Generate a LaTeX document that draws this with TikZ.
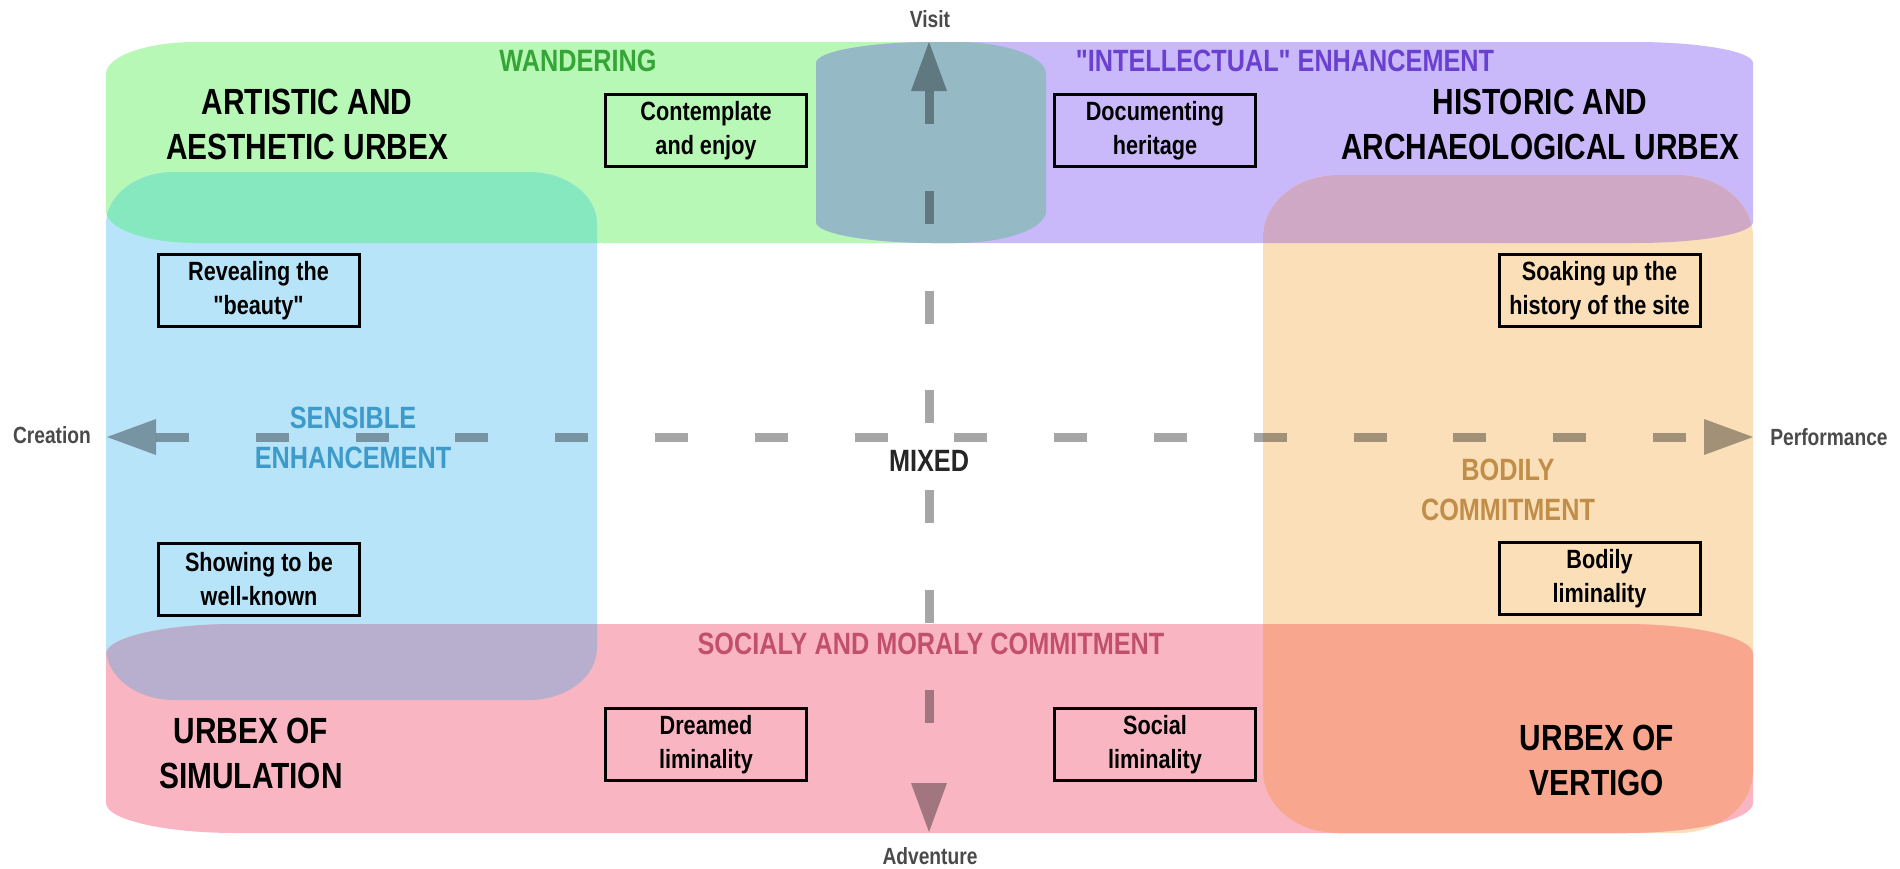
\documentclass[tikz,border=0pt]{standalone}
\usepackage{fontspec}
\newfontfamily\nar[FakeStretch=0.82]{Liberation Sans}
\definecolor{cGreen}{HTML}{B7F8B7}
\definecolor{cPurple}{HTML}{C9B8FA}
\definecolor{cBlue}{HTML}{B8E4FA}
\definecolor{cOrange}{HTML}{FADFB8}
\definecolor{cPink}{HTML}{F9B6C2}
\definecolor{cGP}{HTML}{95B9C5}
\definecolor{cGB}{HTML}{86E8BE}
\definecolor{cPO}{HTML}{CEA8C4}
\definecolor{cBP}{HTML}{B8AECE}
\definecolor{cOP}{HTML}{F9A68E}
\definecolor{cAxis}{HTML}{A6A6A6}
\definecolor{cAxLab}{HTML}{4A4A4A}
\definecolor{tGreen}{HTML}{35A535}
\definecolor{tPurple}{HTML}{6A40D0}
\definecolor{tBlue}{HTML}{3D9AC9}
\definecolor{tOrange}{HTML}{C08E48}
\definecolor{tPink}{HTML}{C2506B}
\definecolor{tMixed}{HTML}{262626}
% band with elliptical corners: x1 y1 x2 y2 rx ry (pixel coords, y down)
\newcommand\ubxband[6]{({#1+#5},#2) -- ({#3-#5},#2) .. controls ({#3-0.4477*#5},#2) and (#3,{#2+0.4477*#6}) .. (#3,{#2+#6}) -- (#3,{#4-#6}) .. controls (#3,{#4-0.4477*#6}) and ({#3-0.4477*#5},#4) .. ({#3-#5},#4) -- ({#1+#5},#4) .. controls ({#1+0.4477*#5},#4) and (#1,{#4-0.4477*#6}) .. (#1,{#4-#6}) -- (#1,{#2+#6}) .. controls (#1,{#2+0.4477*#6}) and ({#1+0.4477*#5},#2) .. ({#1+#5},#2) -- cycle}
\newcommand\bGreen{\ubxband{106}{42}{1046}{243}{90}{32}}
\newcommand\bPurple{\ubxband{816}{42}{1753}{243}{118}{21}}
\newcommand\bBlue{\ubxband{106}{172}{597}{700}{68}{52}}
\newcommand\bOrange{\ubxband{1263}{175}{1753}{833}{75}{62}}
\newcommand\bPink{\ubxband{106}{624}{1753}{833}{130}{30}}
\begin{document}
\begin{tikzpicture}[x=0.5pt,y=-0.5pt,
  stepbox/.style={draw=black, line width=1.5pt, minimum width=100.5pt, minimum height=36pt, inner sep=0pt, align=center, font=\nar\bfseries\fontsize{13.2}{17}\selectfont},
  title/.style={align=center, inner sep=0pt, font=\nar\bfseries\fontsize{18.2}{22.5}\selectfont},
  cat/.style={align=center, inner sep=0pt, font=\nar\bfseries\fontsize{15.4}{20}\selectfont},
  axlab/.style={inner sep=0pt, text=cAxLab, font=\nar\bfseries\fontsize{11.7}{14}\selectfont},
  axline/.style={draw=cAxis, line width=4.5pt, dash pattern=on 16.5pt off 33.4pt},
  axhead/.style={fill=cAxis}]
\useasboundingbox (0,0) rectangle (1900,868);
\fill[white] (0,0) rectangle (1900,868);
% bands
\fill[cGreen] \bGreen;
\fill[cPurple] \bPurple;
\fill[cBlue] \bBlue;
\fill[cOrange] \bOrange;
\fill[cPink] \bPink;
% overlaps
\begin{scope}\clip \bGreen; \fill[cGP] \bPurple; \end{scope}
\begin{scope}\clip \bGreen; \fill[cGB] \bBlue; \end{scope}
\begin{scope}\clip \bPurple; \fill[cPO] \bOrange; \end{scope}
\begin{scope}\clip \bBlue; \fill[cBP] \bPink; \end{scope}
\begin{scope}\clip \bOrange; \fill[cOP] \bPink; \end{scope}
% axes
\coordinate (hL) at (107,437);
\coordinate (hLb) at (156,437);
\coordinate (hR) at (1753,437);
\coordinate (hRb) at (1704,437);
\coordinate (vT) at (929,42);
\coordinate (vTb) at (929,91);
\coordinate (vB) at (929,832);
\coordinate (vBb) at (929,783);
\begin{scope}[blend mode=multiply]
\draw[axline] (hLb) -- (hRb);
\draw[axline] (vTb) -- (vBb);
\fill[axhead] (hL) -- ([yshift=-9pt]hLb) -- ([yshift=9pt]hLb) -- cycle;
\fill[axhead] (hR) -- ([yshift=-9pt]hRb) -- ([yshift=9pt]hRb) -- cycle;
\fill[axhead] (vT) -- ([xshift=-9pt]vTb) -- ([xshift=9pt]vTb) -- cycle;
\fill[axhead] (vB) -- ([xshift=-9pt]vBb) -- ([xshift=9pt]vBb) -- cycle;
\end{scope}
% axis labels
\node[axlab] (visit) at (930,19) {Visit};
\node[axlab] (adventure) at (930,856) {Adventure};
\node[axlab] (creation) at (52,435) {Creation};
\node[axlab] (performance) at (1829,437) {Performance};
% category labels
\node[cat, text=tGreen] (wandering) at (578,61) {WANDERING};
\node[cat, text=tPurple] (intellectual) at (1285,61) {"INTELLECTUAL" ENHANCEMENT};
\node[cat, text=tBlue] (sensible) at (353,438) {SENSIBLE\\ENHANCEMENT};
\node[cat, text=tOrange] (bodilyc) at (1508,490) {BODILY\\COMMITMENT};
\node[cat, text=tPink] (socialy) at (931,644) {SOCIALY AND MORALY COMMITMENT};
\node[cat, text=tMixed] (mixed) at (929,461) {MIXED};
% titles
\node[title] (artistic) at (307,124) {ARTISTIC AND\\AESTHETIC URBEX};
\node[title] (historic) at (1540,124) {HISTORIC AND\\ARCHAEOLOGICAL URBEX};
\node[title] (simulation) at (251,753) {URBEX OF\\SIMULATION};
\node[title] (vertigo) at (1597,760) {URBEX OF\\VERTIGO};
% boxes
\node[stepbox] (contemplate) at (706,130.5) {Contemplate\\and enjoy};
\node[stepbox] (documenting) at (1155,130.5) {Documenting\\heritage};
\node[stepbox] (revealing) at (258.5,290.5) {Revealing the\\"beauty"};
\node[stepbox] (soaking) at (1599.5,290.5) {Soaking up the\\history of the site};
\node[stepbox] (showing) at (259,579.5) {Showing to be\\well-known};
\node[stepbox] (bodily) at (1599.5,578.5) {Bodily\\liminality};
\node[stepbox] (dreamed) at (706,744.5) {Dreamed\\liminality};
\node[stepbox] (social) at (1155,744.5) {Social\\liminality};
\end{tikzpicture}
\end{document}
